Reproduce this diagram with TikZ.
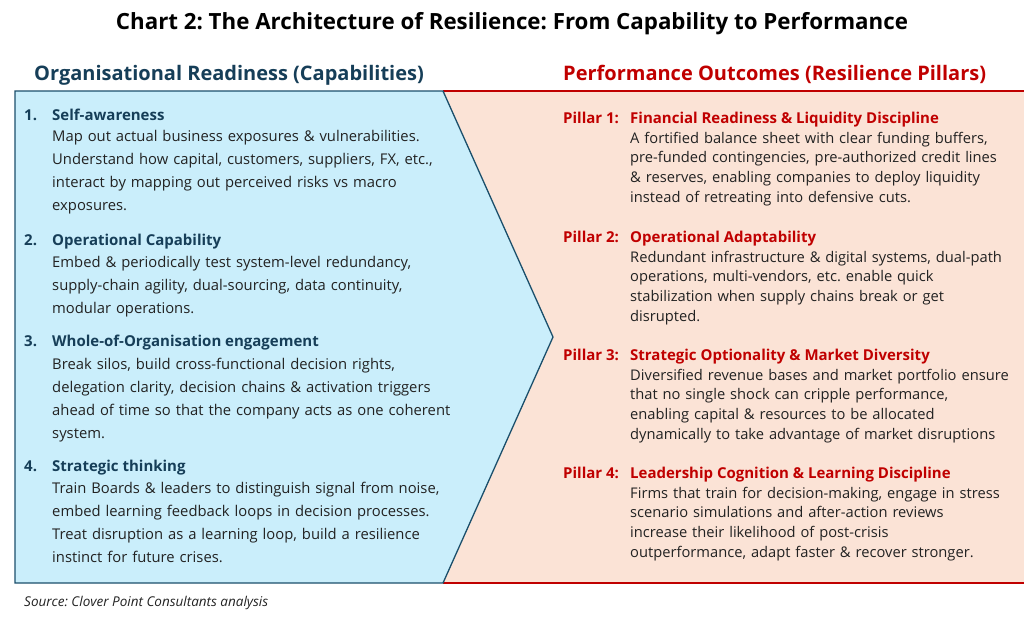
\documentclass[tikz,border=0pt]{standalone}
\usepackage{fontspec}
\setmainfont{Open Sans}
\frenchspacing
\usetikzlibrary{positioning}
\definecolor{capblue}{HTML}{CAEEFB}
\definecolor{capline}{HTML}{1B4F6B}
\definecolor{capnavy}{HTML}{163E58}
\definecolor{outpeach}{HTML}{FBE3D6}
\definecolor{outred}{HTML}{C00000}
\definecolor{bodygray}{HTML}{222222}

\begin{document}
\begin{tikzpicture}[x=1pt, y=-1pt,
  every node/.style={inner sep=0pt, anchor=base west},
  charttitle/.style={font=\bfseries\fontsize{22.3}{26}\selectfont, anchor=base},
  heading/.style={font=\bfseries\fontsize{20}{24}\selectfont},
  captitle/.style={font=\bfseries\fontsize{15}{18}\selectfont, text=capnavy},
  capbody/.style={font=\fontsize{14.8}{23.3}\selectfont, text=bodygray, text width=480pt, align=left},
  piltitle/.style={font=\bfseries\fontsize{15}{18}\selectfont, text=outred},
  pilbody/.style={font=\fontsize{14.7}{19.8}\selectfont, text=bodygray, text width=420pt, align=left},
  source/.style={font=\itshape\fontsize{13.5}{16}\selectfont, text=bodygray}]

  \useasboundingbox (0,0) rectangle (1024,619);

  % outcome panel
  \fill[outpeach] (443,91) rectangle (1024,583);
  \draw[outred, line width=1.3pt] (443,91) -- (1024,91);
  \draw[outred, line width=1.3pt] (443,583) -- (1024,583);

  % capability chevron
  \draw[capline, fill=capblue, line width=1.3pt, line join=miter]
    (15,91) -- (443,91) -- (553,337) -- (443,583) -- (15,583) -- cycle;

  \node[charttitle] (title) at (512,29) {Chart 2: The Architecture of Resilience: From Capability to Performance};
  \node[heading, text=capnavy] (caphead) at (34,80) {Organisational Readiness (Capabilities)};
  \node[heading, text=outred] (outhead) at (563,80) {Performance Outcomes (Resilience Pillars)};

  % capabilities
  \node[captitle] (n1) at (24,120) {1.};
  \node[captitle] (c1) at (52,120) {Self-awareness};
  \node[capbody] (b1) at (52,141) {Map out actual business exposures \& vulnerabilities.\\
    Understand how capital, customers, suppliers, FX, etc.,\\
    interact by mapping out perceived risks vs macro\\
    exposures.};

  \node[captitle] (n2) at (24,245) {2.};
  \node[captitle] (c2) at (52,245) {Operational Capability};
  \node[capbody] (b2) at (52,267) {Embed \& periodically test system-level redundancy,\\
    supply-chain agility, dual-sourcing, data continuity,\\
    modular operations.};

  \node[captitle] (n3) at (24,346) {3.};
  \node[captitle] (c3) at (52,346) {Whole-of-Organisation engagement};
  \node[capbody] (b3) at (52,369) {Break silos, build cross-functional decision rights,\\
    delegation clarity, decision chains \& activation triggers\\
    ahead of time so that the company acts as one coherent\\
    system.};

  \node[captitle] (n4) at (24,471) {4.};
  \node[captitle] (c4) at (52,471) {Strategic thinking};
  \node[capbody] (b4) at (52,493) {Train Boards \& leaders to distinguish signal from noise,\\
    embed learning feedback loops in decision processes.\\
    Treat disruption as a learning loop, build a resilience\\
    instinct for future crises.};

  % pillars
  \node[piltitle] (p1) at (563,123) {Pillar 1:};
  \node[piltitle] (t1) at (630,123) {Financial Readiness \& Liquidity Discipline};
  \node[pilbody] (d1) at (630,143) {A fortified balance sheet with clear funding buffers,\\
    pre-funded contingencies, pre-authorized credit lines\\
    \& reserves, enabling companies to deploy liquidity\\
    instead of retreating into defensive cuts.};

  \node[piltitle] (p2) at (563,242) {Pillar 2:};
  \node[piltitle] (t2) at (630,242) {Operational Adaptability};
  \node[pilbody] (d2) at (630,262) {Redundant infrastructure \& digital systems, dual-path\\
    operations, multi-vendors, etc. enable quick\\
    stabilization when supply chains break or get\\
    disrupted.};

  \node[piltitle] (p3) at (563,360) {Pillar 3:};
  \node[piltitle] (t3) at (630,360) {Strategic Optionality \& Market Diversity};
  \node[pilbody] (d3) at (630,380) {Diversified revenue bases and market portfolio ensure\\
    that no single shock can cripple performance,\\
    enabling capital \& resources to be allocated\\
    dynamically to take advantage of market disruptions};

  \node[piltitle] (p4) at (563,478) {Pillar 4:};
  \node[piltitle] (t4) at (630,478) {Leadership Cognition \& Learning Discipline};
  \node[pilbody] (d4) at (630,498) {Firms that train for decision-making, engage in stress\\
    scenario simulations and after-action reviews\\
    increase their likelihood of post-crisis\\
    outperformance, adapt faster \& recover stronger.};

  \node[source] (src) at (24,606) {Source: Clover Point Consultants analysis};
\end{tikzpicture}
\end{document}
